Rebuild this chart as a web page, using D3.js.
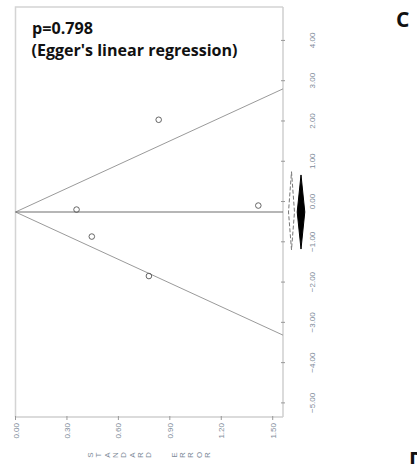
<!DOCTYPE html>
<html lang="en">
<head>
<meta charset="UTF-8">
<title>Funnel plot</title>
<script src="https://d3js.org/d3.v7.min.js"></script>
<style>
  body { margin: 0; background: #fff; }
  .tick-label { font-family: "Liberation Sans", Arial, sans-serif; font-size: 8px; fill: #7d8a98; }
  .note { font-family: "Open Sans", sans-serif; font-weight: bold; fill: #111; }
</style>
</head>
<body>
<svg width="417" height="464"></svg>
<script>
// study standard errors and effect sizes
var studySE     = [0.835, 0.356, 1.416, 0.445, 0.778];
var studyEffect = [2.03, -0.20, -0.10, -0.87, -1.85];

// pooled estimate used for the funnel centre
var pooledEffect = -0.26;

// pooled diamonds: observed (dashed) and adjusted (filled)
var diamondNames = ["observed", "adjusted"];
var diamondLower = [-1.20, -1.18];
var diamondUpper = [0.74, 0.66];

var xTicks = [0, 0.3, 0.6, 0.9, 1.2, 1.5];
var yTicks = [4, 3, 2, 1, 0, -1, -2, -3, -4, -5];
var xTitle = "STANDARD  ERROR";

var svg = d3.select("svg");

var x = d3.scaleLinear().domain([0, 1.56]).range([15.5, 283]);
var y = d3.scaleLinear().domain([-5.35, 4.83]).range([417, 7]);
var dx = d3.scalePoint().domain(diamondNames).range([291.5, 301]);

// frame
svg.append("path")
  .attr("d", "M" + x(1.56) + "," + y(4.83) + "H" + x(0) + "V" + y(-5.35))
  .attr("fill", "none").attr("stroke", "#d4d4d4").attr("stroke-width", 1.5);

// y axis on the right
var yAxis = svg.append("g").attr("transform", "translate(" + x(1.56) + ",0)");
yAxis.append("line").attr("y1", y(4.83)).attr("y2", y(-5.35))
  .attr("stroke", "#cfcfcf").attr("stroke-width", 1.5);
yAxis.selectAll(".yt").data(yTicks).enter().append("line")
  .attr("x1", -2).attr("x2", 2)
  .attr("y1", function(d) { return y(d); }).attr("y2", function(d) { return y(d); })
  .attr("stroke", "#999");
svg.selectAll(".ylab").data(yTicks).enter().append("text")
  .attr("class", "tick-label")
  .attr("text-anchor", "middle")
  .attr("transform", function(d) { return "translate(315," + y(d) + ") rotate(-90)"; })
  .text(function(d) { return d3.format(".2f")(d); });

// x axis at the bottom
var xAxis = svg.append("g").attr("transform", "translate(0," + y(-5.35) + ")");
xAxis.append("line").attr("x1", x(0)).attr("x2", x(1.56))
  .attr("stroke", "#cfcfcf").attr("stroke-width", 1.5);
xAxis.selectAll(".xt").data(xTicks).enter().append("line")
  .attr("x1", function(d) { return x(d); }).attr("x2", function(d) { return x(d); })
  .attr("y1", -1).attr("y2", 3)
  .attr("stroke", "#999");
svg.selectAll(".xlab").data(xTicks).enter().append("text")
  .attr("class", "tick-label")
  .attr("text-anchor", "end")
  .attr("transform", function(d) { return "translate(" + (x(d) + 3) + ",423) rotate(-90)"; })
  .text(function(d) { return d3.format(".2f")(d); });

// axis title, one rotated letter at a time
svg.selectAll(".xtitle").data(xTitle.split("")).enter().append("text")
  .attr("class", "tick-label")
  .attr("font-size", 7)
  .attr("text-anchor", "middle")
  .attr("transform", function(d, i) { return "translate(" + (93 + i * 8.35) + ",455) rotate(-90)"; })
  .text(function(d) { return d; });

// funnel limits
var seMax = 1.56;
[1, -1].forEach(function(s) {
  svg.append("line")
    .attr("x1", x(0)).attr("y1", y(pooledEffect))
    .attr("x2", x(seMax)).attr("y2", y(pooledEffect + s * 1.96 * seMax))
    .attr("stroke", "#9a9a9a").attr("stroke-width", 1);
});
svg.append("line")
  .attr("x1", x(0)).attr("x2", x(seMax))
  .attr("y1", y(pooledEffect)).attr("y2", y(pooledEffect))
  .attr("stroke", "#6e6e6e").attr("stroke-width", 1.2);

// studies
svg.selectAll(".pt").data(studySE).enter().append("circle")
  .attr("cx", function(d) { return x(d); })
  .attr("cy", function(d, i) { return y(studyEffect[i]); })
  .attr("r", 2.8)
  .attr("fill", "none").attr("stroke", "#555").attr("stroke-width", 0.9);

// pooled diamonds
diamondNames.forEach(function(name, i) {
  var cx = dx(name), w = i === 0 ? 3 : 3.8;
  var pts = [[cx, y(diamondUpper[i])], [cx + w, y(pooledEffect)],
             [cx, y(diamondLower[i])], [cx - w, y(pooledEffect)]];
  svg.append("path")
    .attr("d", "M" + pts.join("L") + "Z")
    .attr("fill", i === 0 ? "#fff" : "#000")
    .attr("stroke", i === 0 ? "#777" : "#000")
    .attr("stroke-width", 1)
    .attr("stroke-dasharray", i === 0 ? "4,2" : null);
});

// annotation text
svg.append("text").attr("class", "note")
  .attr("x", 32).attr("y", 34).attr("font-size", 15.5)
  .attr("textLength", 61).attr("lengthAdjust", "spacingAndGlyphs")
  .text("p=0.798");
svg.append("text").attr("class", "note")
  .attr("x", 31.5).attr("y", 56).attr("font-size", 15.5)
  .attr("textLength", 206).attr("lengthAdjust", "spacingAndGlyphs")
  .text("(Egger's linear regression)");

// panel letters
svg.append("text").attr("class", "note")
  .attr("x", 396).attr("y", 27).attr("font-size", 21)
  .text("C");
svg.append("text").attr("class", "note")
  .attr("x", 409).attr("y", 467).attr("font-size", 21)
  .text("D");
</script>
</body>
</html>
